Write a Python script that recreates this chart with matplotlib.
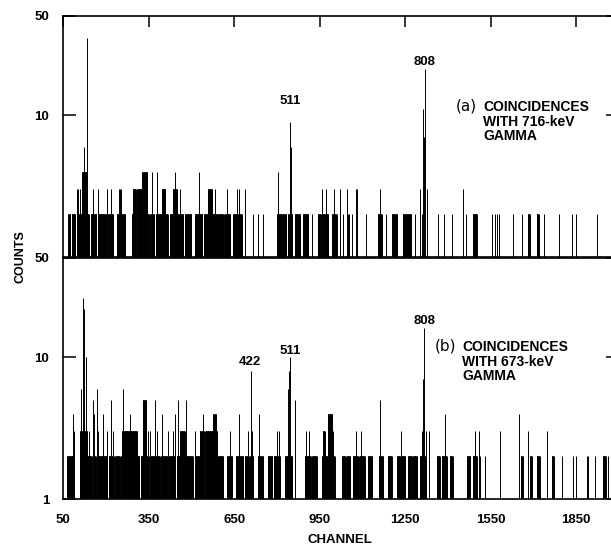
import numpy as np
import matplotlib.pyplot as plt

plt.rcParams['font.family'] = ['Liberation Sans', 'DejaVu Sans']
plt.rcParams['font.weight'] = 'bold'

# x axis
channel_ticks = [50, 350, 650, 950, 1250, 1550, 1850]
channel_min, channel_max = 50, 2000

# (a) coincidences with 716-keV gamma: filled runs (first channel, last channel, counts)
a_blocks = [(68, 92, 2), (99, 225, 2), (239, 267, 2), (291, 500, 2), (512, 590, 2),
            (593, 635, 2), (646, 677, 2), (800, 818, 2), (821, 832, 2), (839, 853, 2),
            (863, 881, 2), (891, 909, 2), (944, 979, 2), (993, 1010, 2), (1154, 1168, 2),
            (1203, 1221, 2), (1242, 1270, 2), (1487, 1501, 2), (1680, 1687, 2), (1711, 1718, 2),
            (117, 134, 4), (295, 326, 3), (327, 344, 4), (397, 408, 3), (435, 450, 3),
            (558, 572, 3)]
# empty channels inside the runs
a_gaps = [(76, 79), (141, 146), (168, 171), (202, 207), (306, 309), (352, 355), (370, 374),
          (418, 424), (472, 476), (540, 543), (612, 615), (660, 663), (955, 958)]
# single channels
a_spike_ch = [716, 733, 751, 923, 1031, 1049, 1052, 1063, 1112, 1182, 1284, 1308, 1364,
              1385, 1413, 1462, 1554, 1564, 1571, 1578, 1627, 1659, 1736, 1788, 1834, 1848,
              1922,
              99, 103, 109, 155, 173, 204, 246, 250, 253, 460, 563, 571, 583, 625, 662, 668,
              690, 957, 971, 1000, 1021, 1045, 1077, 1080, 1161, 1301, 1326, 1452,
              217, 362, 442, 528, 803, 380,
              124, 135, 846, 848, 1312, 1315, 1318]
a_spike_counts = [2] * 27 + [3] * 29 + [4, 4, 4, 4, 4, 6] + [35, 9, 6, 11, 7, 21, 4]

# (b) coincidences with 673-keV gamma
b_blocks = [(64, 89, 2), (110, 150, 2), (158, 205, 2), (210, 350, 2), (358, 415, 2),
            (422, 505, 2), (515, 592, 2), (595, 611, 2), (625, 642, 2), (656, 681, 2),
            (688, 716, 2), (733, 751, 2), (768, 811, 2), (828, 853, 2), (898, 940, 2),
            (958, 1003, 2), (1028, 1056, 2), (1066, 1108, 2), (1119, 1133, 2), (1158, 1172, 2),
            (1189, 1203, 2), (1221, 1249, 2), (1259, 1273, 2), (1277, 1291, 2), (1301, 1319, 2),
            (1361, 1371, 2), (1378, 1396, 2), (1406, 1417, 2), (1466, 1477, 2), (1487, 1501, 2),
            (1655, 1662, 2), (1687, 1694, 2), (1711, 1722, 2), (1764, 1771, 2), (1943, 1953, 2),
            (110, 134, 3), (257, 309, 3), (460, 477, 3), (530, 590, 3), (961, 968, 3),
            (576, 586, 4), (979, 993, 4), (330, 341, 5)]
b_gaps = [(96, 99), (165, 168), (229, 232), (250, 253), (318, 321), (390, 393), (445, 448),
          (545, 548), (700, 703), (785, 788), (920, 923), (1040, 1043), (1085, 1088),
          (1233, 1236)]
b_spike_ch = [1512, 1529, 1799, 1837, 1848, 1887, 1890, 1915, 1960,
              89, 134, 141, 173, 204, 225, 299, 348, 355, 379, 418, 435, 513, 635, 698, 712,
              800, 807, 902, 912, 996, 1077, 1094, 1237, 1308, 1322, 1333, 1494, 1508, 1584,
              1680, 1747,
              85, 159, 190, 285, 397, 443, 541, 667, 737, 1389, 1648,
              155, 218, 372, 453, 481, 863, 1161,
              112, 169, 260, 839,
              121, 124, 131, 708, 844, 847, 1312, 1315]
b_spike_counts = [2] * 9 + [3] * 32 + [4] * 11 + [5] * 7 + [6] * 4 + [26, 22, 10, 8, 8, 10, 7, 16]


def spectrum(blocks, gaps, spike_ch, spike_counts):
    ch = np.arange(channel_min, channel_max + 1)
    counts = np.ones(len(ch))
    for lo, hi, lvl in blocks:
        i0, i1 = lo - channel_min, hi - channel_min + 1
        counts[i0:i1] = np.maximum(counts[i0:i1], lvl)
    for lo, hi in gaps:
        counts[lo - channel_min:hi - channel_min + 1] = 1
    for c, n in zip(spike_ch, spike_counts):
        counts[c - channel_min] = max(counts[c - channel_min], n)
    return ch, counts


fig = plt.figure(figsize=(6.11, 5.46), dpi=100)
W, H = 611, 546
ax_a = fig.add_axes([63 / W, 1 - 257 / H, 556 / W, 241 / H])
ax_b = fig.add_axes([63 / W, 1 - 499 / H, 556 / W, 241 / H])

for ax, data in [(ax_a, (a_blocks, a_gaps, a_spike_ch, a_spike_counts)),
                 (ax_b, (b_blocks, b_gaps, b_spike_ch, b_spike_counts))]:
    ch, counts = spectrum(*data)
    keep = counts > 1
    ax.vlines(ch[keep], 1, counts[keep], colors='black', linewidth=0.7)
    ax.set_yscale('log')
    ax.set_ylim(1, 50)
    ax.set_xlim(channel_min, channel_max)
    ax.minorticks_off()
    for s in ax.spines.values():
        s.set_linewidth(1.2)
    ax.tick_params(axis='y', direction='in', length=9.5, width=1.1, left=True, right=True,
                   labelsize=9.5, pad=10)

ax_a.set_yticks([10, 50])
ax_a.set_yticklabels(['10', '50'])
ax_a.set_xticks(channel_ticks)
ax_a.tick_params(axis='x', direction='in', top=True, bottom=False, labelbottom=False,
                 length=8, width=1.1)

ax_b.set_yticks([1, 10, 50])
ax_b.set_yticklabels(['1', '10', '50'])
ax_b.set_xticks(channel_ticks)
ax_b.set_xticklabels([str(t) for t in channel_ticks])
ax_b.tick_params(axis='x', direction='in', length=0, labelsize=9.5, pad=11)

# peak labels
ax_a.text(846, 12.6, '511', ha='center', va='center', fontsize=9.5)
ax_a.text(1317, 23.6, '808', ha='center', va='center', fontsize=9.5)
ax_b.text(705, 9.2, '422', ha='center', va='center', fontsize=9.5)
ax_b.text(846, 11.0, '511', ha='center', va='center', fontsize=9.5)
ax_b.text(1317, 17.9, '808', ha='center', va='center', fontsize=9.5)

# panel captions
for tag, lines, x_tag, x0, y0 in [('(a)', ['COINCIDENCES', 'WITH 716-keV', 'GAMMA'], 466, 483, 107),
                                   ('(b)', ['COINCIDENCES', 'WITH 673-keV', 'GAMMA'], 446, 462, 347)]:
    fig.text(x_tag / W, 1 - (y0 - 1) / H, tag, ha='center', va='center', fontsize=11,
             fontweight='normal', family='DejaVu Sans')
    for k, line in enumerate(lines):
        fig.text(x0 / W, 1 - (y0 + 14.5 * k) / H, line, ha='left', va='center', fontsize=10)

fig.text(20 / W, 1 - 257 / H, 'COUNTS', rotation=90, ha='center', va='center', fontsize=9)
fig.text(340 / W, 1 - 540 / H, 'CHANNEL', ha='center', va='center', fontsize=9.5)

fig.savefig('out.png', dpi=100)
